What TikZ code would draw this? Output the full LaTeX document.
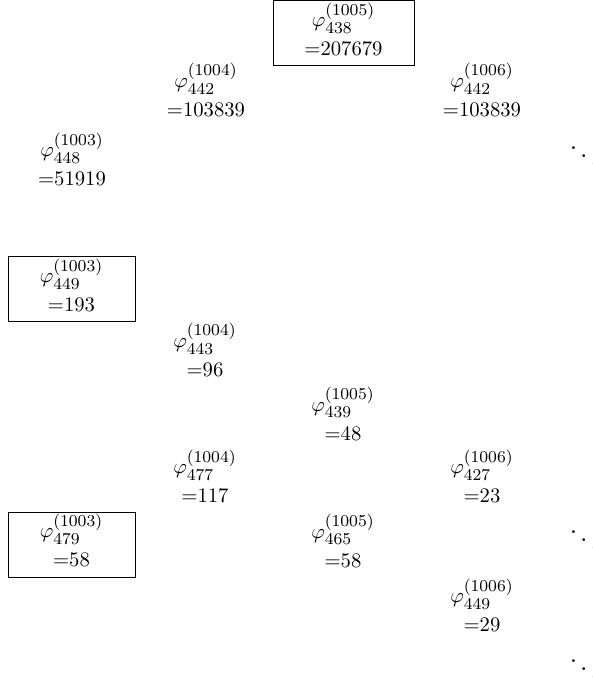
\documentclass[tikz,border=0pt]{standalone}
\usepackage{amsmath}
\DeclareMathSizes{10}{10}{8}{6}
\begin{document}
\begin{tikzpicture}[x=0.5076pt, y=-0.5076pt,
    cell/.style={align=center, inner sep=0pt, scale=1.05, transform shape},
    framed/.style={draw, align=center, inner xsep=0pt, inner ysep=1pt, scale=1.05, transform shape},
    ellip/.style={anchor=base west, inner sep=0pt, scale=1.35, transform shape}]

  \newcommand\lowstrut{\rule[-3.9pt]{0pt}{0pt}}

  \useasboundingbox (0,0) rectangle (592,684);

  %% top part
  \node[framed, minimum width=68.1pt] (n1005-438) at (343.5, 33) {$\varphi^{(1005)}_{438}$\\[2pt]${=}207679$\lowstrut};
  \node[cell] (n1004-442) at (206, 89.8) {$\varphi^{(1004)}_{442}$\\[2pt]${=}103839$};
  \node[cell] (n1006-442) at (482, 89.8) {$\varphi^{(1006)}_{442}$\\[2pt]${=}103839$};
  \node[cell] (n1003-448) at (72, 159) {$\varphi^{(1003)}_{448}$\\[2pt]${=}51919$};
  \node[ellip] (d1) at (567.8, 168) {$\ddots$};

  %% second part
  \node[framed, minimum width=61.4pt] (n1003-449) at (71.5, 289) {$\varphi^{(1003)}_{449}$\\[2pt]${=}193$\lowstrut};
  \node[cell] (n1004-443) at (205, 349.8) {$\varphi^{(1004)}_{443}$\\[2pt]${=}96$};
  \node[cell] (n1005-439) at (343, 413.7) {$\varphi^{(1005)}_{439}$\\[2pt]${=}48$};
  \node[cell] (n1004-477) at (205, 476.5) {$\varphi^{(1004)}_{477}$\\[2pt]${=}117$};
  \node[cell] (n1006-427) at (482, 476.5) {$\varphi^{(1006)}_{427}$\\[2pt]${=}23$};
  \node[framed, minimum width=61.4pt] (n1003-479) at (71.5, 544.5) {$\varphi^{(1003)}_{479}$\\[2pt]${=}58$\lowstrut};
  \node[cell] (n1005-465) at (343, 540.7) {$\varphi^{(1005)}_{465}$\\[2pt]${=}58$};
  \node[ellip] (d2) at (567.8, 552) {$\ddots$};
  \node[cell] (n1006-449) at (482, 604.9) {$\varphi^{(1006)}_{449}$\\[2pt]${=}29$};
  \node[ellip] (d3) at (567.8, 681) {$\ddots$};

\end{tikzpicture}
\end{document}
